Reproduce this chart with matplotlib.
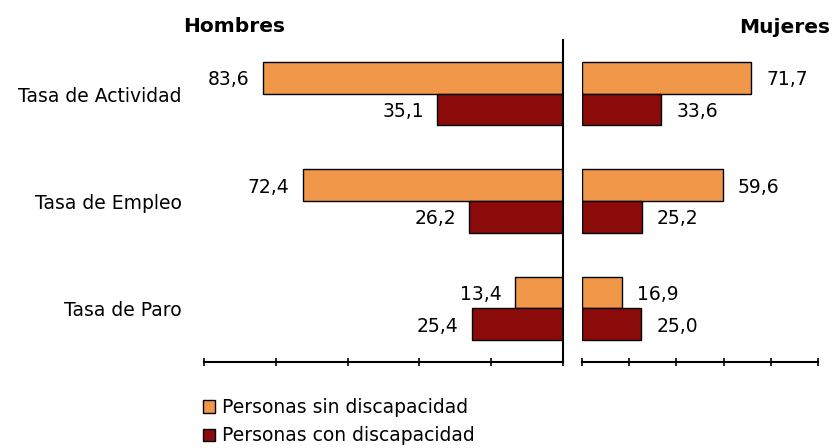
import matplotlib
matplotlib.use("Agg")
import matplotlib.pyplot as plt
from matplotlib.patches import Patch

categories = ["Tasa de Actividad", "Tasa de Empleo", "Tasa de Paro"]
series_labels = ["Personas sin discapacidad", "Personas con discapacidad"]
hombres_sin = [83.6, 72.4, 13.4]
hombres_con = [35.1, 26.2, 25.4]
mujeres_sin = [71.7, 59.6, 16.9]
mujeres_con = [33.6, 25.2, 25.0]

ORANGE = "#F0974A"
DARK_RED = "#8B0A0A"
FS = 13.5
FS_TITLE = 14.5

plt.rcParams["font.family"] = ["DejaVu Sans"]


def fmt(v):
    return f"{v:.1f}".replace(".", ",")


def style_axis(ax, xlim):
    ax.set_xlim(*xlim)
    ax.set_ylim(2.5, -0.5)
    ax.set_xticks(range(0, 101, 20))
    ax.set_xticklabels([])
    ax.set_yticks([])
    for side in ("top", "right", "left"):
        ax.spines[side].set_visible(False)
    ax.spines["bottom"].set_linewidth(1.5)
    ax.tick_params(axis="x", direction="inout", length=6, width=1.2)


fig = plt.figure(figsize=(8.33, 4.48), dpi=100)
ax_h = fig.add_axes([0.2445, 0.192, 0.4317, 0.7188])
ax_m = fig.add_axes([0.699, 0.192, 0.2826, 0.7188])

ys = list(range(len(categories)))
h = 0.295
y_sin = [y - h / 2 for y in ys]
y_con = [y + h / 2 for y in ys]

for ax, sin, con, side in ((ax_h, hombres_sin, hombres_con, "left"),
                           (ax_m, mujeres_sin, mujeres_con, "right")):
    ax.barh(y_sin, sin, height=h, color=ORANGE, edgecolor="black", linewidth=1)
    ax.barh(y_con, con, height=h, color=DARK_RED, edgecolor="black", linewidth=1)
    for y, v in list(zip(y_sin, sin)) + list(zip(y_con, con)):
        if side == "left":
            ax.annotate(fmt(v), (v, y), xytext=(-9.5, -1.5), textcoords="offset points",
                        ha="right", va="center", fontsize=FS)
        else:
            ax.annotate(fmt(v), (v, y), xytext=(11, -1.5), textcoords="offset points",
                        ha="left", va="center", fontsize=FS)

style_axis(ax_h, (100, 0))
ax_h.spines["right"].set_visible(True)
ax_h.spines["right"].set_linewidth(1.5)
style_axis(ax_m, (0, 100))

for y, cat in zip(ys, categories):
    fig.text(182 / 833, 1 - (96 + 107.3 * y) / 448, cat, ha="right", va="center", fontsize=FS)

fig.text(183 / 833, 1 - 32.5 / 448, "Hombres", ha="left", va="baseline",
         fontsize=FS_TITLE, fontweight="bold")
fig.text(830 / 833, 1 - 33 / 448, "Mujeres", ha="right", va="baseline",
         fontsize=FS_TITLE, fontweight="bold")

handles = [Patch(facecolor=ORANGE, edgecolor="black"),
           Patch(facecolor=DARK_RED, edgecolor="black")]
fig.legend(handles, series_labels, loc="upper left", bbox_to_anchor=(203 / 833, 1 - 398 / 448),
           frameon=False, fontsize=FS, handlelength=0.64, handleheight=0.64,
           handletextpad=0.37, labelspacing=0.5, borderpad=0, borderaxespad=0)

fig.savefig("out.png", dpi=100)
